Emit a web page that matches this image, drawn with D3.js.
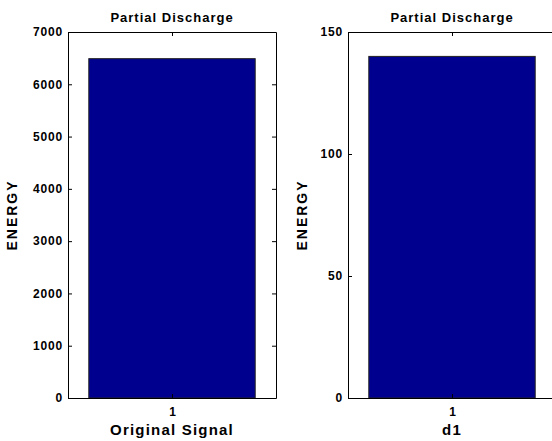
<!DOCTYPE html>
<html>
<head>
<meta charset="utf-8">
<script src="https://cdn.jsdelivr.net/npm/d3@7"></script>
<style>
  body { margin: 0; background: #fff; }
  svg { display: block; font-family: "Liberation Sans", Arial, sans-serif; font-weight: bold; }
</style>
</head>
<body>
<svg id="chart" width="552" height="441"></svg>
<script>
// data for the two panels
const categories = [1];
const originalValues = [6490];
const d1Values = [140];
const originalTicks = [0, 1000, 2000, 3000, 4000, 5000, 6000, 7000];
const d1Ticks = [0, 50, 100, 150];

const svg = d3.select("#chart");
const plotTop = 32, plotBottom = 398;
const barColor = "#00008f";

function styleText(sel, size, spacing) {
    sel.style("font-size", size + "px")
        .style("font-weight", "bold")
        .style("letter-spacing", spacing + "px")
        .attr("fill", "#000");
}

function drawPanel(left, width, values, yMax, yTicks, xLabel, labelX) {
    const g = svg.append("g");
    const x = d3.scaleLinear().domain([0.5, 1.5]).range([left, left + width]);
    const y = d3.scaleLinear().domain([0, yMax]).range([plotBottom, plotTop]);
    const barW = 0.8;

    // bars
    g.selectAll(".bar")
        .data(values)
        .enter().append("rect")
        .attr("x", (d, i) => x(categories[i] - barW / 2))
        .attr("y", d => y(d))
        .attr("width", (d, i) => x(categories[i] + barW / 2) - x(categories[i] - barW / 2))
        .attr("height", d => y(0) - y(d))
        .style("fill", barColor)
        .style("stroke", "#222")
        .style("stroke-width", 1);

    // y axes left and right (ticks pointing inward)
    g.append("g")
        .attr("transform", `translate(${left},0)`)
        .call(d3.axisLeft(y).tickValues(yTicks).tickFormat(d3.format("d")).tickSizeInner(-4).tickSizeOuter(0).tickPadding(5))
        .call(a => styleText(a.selectAll("text"), 12, 0.8));
    g.append("g")
        .attr("transform", `translate(${left + width},0)`)
        .call(d3.axisRight(y).tickValues(yTicks).tickSizeInner(-4).tickSizeOuter(0).tickFormat(""));

    // x axes bottom and top
    g.append("g")
        .attr("transform", `translate(0,${plotBottom})`)
        .call(d3.axisBottom(x).tickValues(categories).tickFormat(d3.format("d")).tickSizeInner(-4).tickSizeOuter(0).tickPadding(9))
        .call(a => styleText(a.selectAll("text"), 12, 0));
    g.append("g")
        .attr("transform", `translate(0,${plotTop})`)
        .call(d3.axisTop(x).tickValues(categories).tickSizeInner(-4).tickSizeOuter(0).tickFormat(""));

    g.selectAll(".domain, .tick line").attr("stroke", "#000");

    // titles
    g.append("text")
        .attr("x", left + width / 2)
        .attr("y", 22)
        .attr("text-anchor", "middle")
        .call(t => styleText(t, 13, 1))
        .text("Partial Discharge");

    g.append("text")
        .attr("x", left + width / 2)
        .attr("y", 435)
        .attr("text-anchor", "middle")
        .call(t => styleText(t, 15, 1.2))
        .text(xLabel);

    g.append("text")
        .attr("transform", `translate(${labelX},${(plotTop + plotBottom) / 2}) rotate(-90)`)
        .attr("text-anchor", "middle")
        .call(t => styleText(t, 14, 2))
        .text("ENERGY");
}

drawPanel(68, 208, originalValues, 7000, originalTicks, "Original Signal", 16.5);
drawPanel(348, 208, d1Values, 150, d1Ticks, "d1", 306.5);
</script>
</body>
</html>
